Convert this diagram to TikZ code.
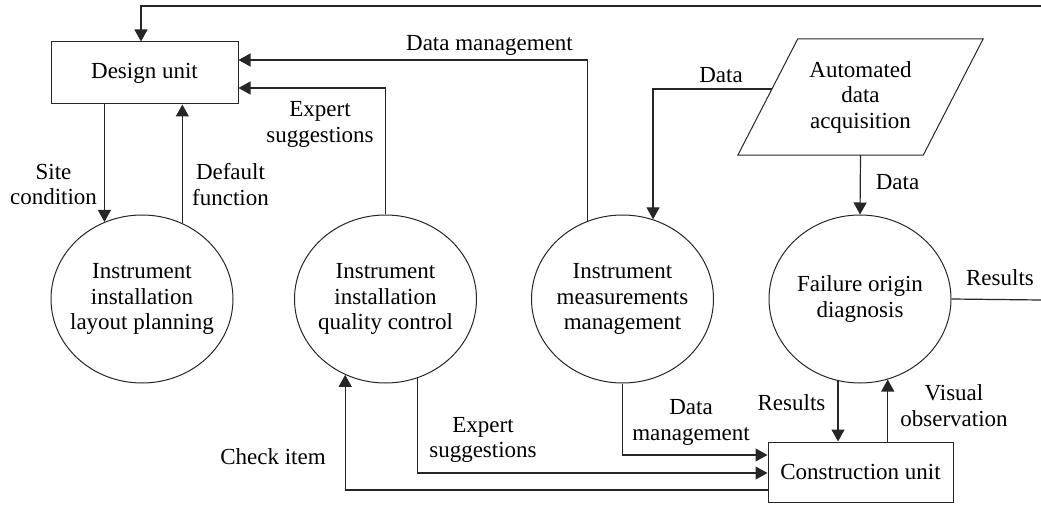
\documentclass[tikz,border=0pt]{standalone}
\usepackage{fontspec}
\setmainfont{Liberation Serif}
\usetikzlibrary{arrows.meta,shapes.geometric}
\begin{document}
\begin{tikzpicture}[x=1pt,y=-1pt,
  lbl/.style={font=\fontsize{23}{25.5}\selectfont, align=center, inner sep=0pt},
  proc/.style={ellipse, draw=black!85, line width=1pt, minimum width=182pt,
               minimum height=168pt, inner sep=0pt},
  unitbox/.style={rectangle, draw=black!85, line width=1pt, minimum width=185pt,
                  minimum height=61pt, inner sep=0pt,
                  font=\fontsize{23}{25.5}\selectfont},
  flow/.style={draw=black!85, line width=1.2pt},
  arr/.style={flow, -{Triangle[length=12pt,width=13pt]}}]
\useasboundingbox (0,0) rectangle (1041,505);

% units
\node[unitbox, minimum width=187pt, minimum height=62pt] (design) at (144.5,73) {Design unit};
\node[unitbox, minimum height=60pt] (cu) at (860.5,472) {Construction unit};

% processes
\node[proc, label={[lbl]center:{Instrument\\installation\\layout planning}}] (c1) at (142,299) {};
\node[proc, label={[lbl]center:{Instrument\\installation\\quality control}}] (c2) at (385.5,299) {};
\node[proc, label={[lbl]center:{Instrument\\measurements\\management}}] (c3) at (622.5,299) {};
\node[proc, label={[lbl]center:{Failure origin\\diagnosis}}] (c4) at (860,299) {};

% data source
\node[lbl, minimum width=185pt, minimum height=116pt] (auto) at (860.5,97)
  {Automated\\data\\acquisition};
\draw[draw=black!85, line width=1pt]
  ([xshift=30pt]auto.north west) -- ([xshift=30pt]auto.north east)
  -- ([xshift=-30pt]auto.south east) -- ([xshift=-30pt]auto.south west) -- cycle;

% loose ends at the right border
\coordinate (feedback) at (1041,6);
\coordinate (resout) at (1041,300);

% connectors
\draw[arr] (feedback) -| ([xshift=-3.5pt]design.north);
\draw[arr] (c1.116 |- design.south) -- (c1.116);
\draw[arr] (c1.62) -- (c1.62 |- design.south);
\draw[arr] (c2.north) |- ([yshift=-15pt]design.east);
\draw[arr] (c3.114) |- ([yshift=13pt]design.east);
\draw[arr] ([shift={(4.1pt,8pt)}]auto.west) -| (c3.69);
\draw[arr] (auto.south) -- (c4.north);
\draw[flow] (c4.east) -- (resout);
\draw[arr] (c4.255) -- (c4.255 |- cu.north);
\draw[arr] (c4.289 |- cu.north) -- (c4.289);
\draw[arr] (c3.south) |- ([yshift=17pt]cu.west);
\draw[arr] (c2.292) |- ([yshift=-1pt]cu.west);
\draw[arr] ([yshift=-18pt]cu.west) -| (c2.242);

% flow labels
\node[lbl] (l1) at (489.5,45) {Data management};
\node[lbl] (l2) at (320,124.5) {Expert\\suggestions};
\node[lbl] (l3) at (53.5,184.5) {Site\\condition};
\node[lbl] (l4) at (230.5,184.5) {Default\\function};
\node[lbl] (l5) at (721,75) {Data};
\node[lbl] (l6) at (897.5,182) {Data};
\node[lbl] (l7) at (1000,278) {Results};
\node[lbl] (l8) at (791.5,403) {Results};
\node[lbl] (l9) at (954,405.5) {Visual\\observation};
\node[lbl] (l10) at (691,422.5) {Data\\management};
\node[lbl] (l11) at (483,440) {Expert\\suggestions};
\node[lbl] (l12) at (273,457) {Check item};
\end{tikzpicture}
\end{document}
